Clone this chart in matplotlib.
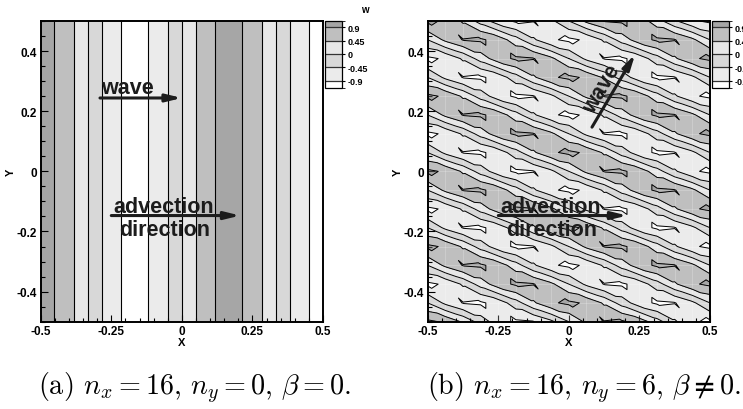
import numpy as np
import matplotlib
matplotlib.use("Agg")
import matplotlib.pyplot as plt
import matplotlib.tri as mtri
from matplotlib.colors import ListedColormap, BoundaryNorm
from matplotlib.cm import ScalarMappable
from matplotlib.ticker import MultipleLocator

# contour levels of w and the labels shown in the legend box
levels = [-0.9, -0.45, 0.0, 0.45, 0.9]
level_labels = ["-0.9", "-0.45", "0", "0.45", "0.9"]

# wave numbers of the two fields w = sin(kx*x + ky*y)
kx_a, ky_a = 3 * np.pi, 0.0
kx_b, ky_b = 3 * np.pi, 8 * np.pi
mesh_cells = 16            # cells of the computational mesh in each direction

x_ticks = [-0.5, -0.25, 0, 0.25, 0.5]
x_tick_labels = ["-0.5", "-0.25", "0", "0.25", "0.5"]
y_ticks = [-0.4, -0.2, 0, 0.2, 0.4]
y_tick_labels = ["-0.4", "-0.2", "0", "0.2", "0.4"]

captions = [r"(a) $n_x = 16$, $n_y = 0$, $\beta = 0$.",
            r"(b) $n_x = 16$, $n_y = 6$, $\beta \neq 0$."]

# greys from lowest band (< -0.9) to highest (> 0.9)
fill_colors = ["#ffffff", "#ebebeb", "#d8d8d8", "#e7e7e7", "#bfbfbf", "#a6a6a6"]

plt.rcParams["font.family"] = ["Liberation Sans", "DejaVu Sans"]
plt.rcParams["font.weight"] = "bold"
plt.rcParams["mathtext.fontset"] = "cm"

W_PX, H_PX = 743, 410
TXT = "#1c1c1c"


def px_box(x0, y0, x1, y1):
    return [x0 / W_PX, (H_PX - y1) / H_PX, (x1 - x0) / W_PX, (y1 - y0) / H_PX]


def style_axes(ax):
    ax.set_xlim(-0.5, 0.5)
    ax.set_ylim(-0.5, 0.5)
    ax.set_xticks(x_ticks)
    ax.set_xticklabels(x_tick_labels)
    ax.set_yticks(y_ticks)
    ax.set_yticklabels(y_tick_labels)
    ax.xaxis.set_minor_locator(MultipleLocator(0.05))
    ax.yaxis.set_minor_locator(MultipleLocator(0.05))
    ax.tick_params(which="both", direction="in", top=False, right=False,
                   labelsize=8.5, pad=2.5, width=0.8)
    ax.tick_params(which="major", length=5)
    ax.tick_params(which="minor", length=3)
    for lab in ax.get_xticklabels() + ax.get_yticklabels():
        lab.set_fontweight("bold")
    for sp in ax.spines.values():
        sp.set_linewidth(1.4)
    ax.set_xlabel("X", fontsize=8, fontweight="bold", labelpad=0)
    ax.set_ylabel("Y", fontsize=8, fontweight="bold", labelpad=1)


def draw_arrow(ax, start, end):
    ax.annotate("", xy=end, xytext=start,
                arrowprops=dict(arrowstyle="-|>,head_length=0.9,head_width=0.22",
                                lw=2.2, color=TXT, shrinkA=0, shrinkB=0))


def colour_box(cax):
    bounds = [-1.16, -0.9, -0.45, 0.0, 0.45, 0.9, 1.12]
    sm = ScalarMappable(norm=BoundaryNorm(bounds, 6), cmap=ListedColormap(fill_colors))
    cb = fig.colorbar(sm, cax=cax, boundaries=bounds, ticks=levels,
                      spacing="proportional", drawedges=True)
    cb.set_ticklabels(level_labels)
    cb.outline.set_linewidth(0.9)
    cb.dividers.set_color("#333333")
    cb.dividers.set_linewidth(0.9)
    cax.tick_params(direction="out", length=2, width=0.8, labelsize=6.5, pad=2)
    for lab in cax.get_yticklabels():
        lab.set_fontweight("bold")


def labels_and_arrows(ax):
    ax.text(-0.063, -0.136, "advection", fontsize=15.5, fontweight="bold",
            color=TXT, ha="center")
    ax.text(-0.06, -0.211, "direction", fontsize=15.5, fontweight="bold",
            color=TXT, ha="center")
    draw_arrow(ax, (-0.25, -0.147), (0.207, -0.147))


def mesh_triangulation(nodes):
    # split each cell along the top-left / bottom-right diagonal
    n = len(nodes)
    X, Y = np.meshgrid(nodes, nodes)
    tris = []
    for j in range(n - 1):
        for i in range(n - 1):
            p = j * n + i
            tris.append([p, p + 1, p + n])
            tris.append([p + 1, p + n + 1, p + n])
    return mtri.Triangulation(X.ravel(), Y.ravel(), np.array(tris)), X, Y


fig = plt.figure(figsize=(W_PX / 100, H_PX / 100), dpi=100)
bands = [-5] + levels + [5]

# ---- panel (a)
ax_a = fig.add_axes(px_box(40.7, 22, 323, 322.7))
xa = np.linspace(-0.5, 0.5, 481)
ya = np.array([-0.5, 0.5])
Xa, Ya = np.meshgrid(xa, ya)
Wa = np.sin(kx_a * Xa + ky_a * Ya)
ax_a.contourf(Xa, Ya, Wa, levels=bands, colors=fill_colors)
ax_a.contour(Xa, Ya, Wa, levels=levels, colors="k", linewidths=0.8,
             linestyles="solid")
style_axes(ax_a)
ax_a.text(-0.286, 0.262, "wave", fontsize=15.5, fontweight="bold", color=TXT)
draw_arrow(ax_a, (-0.29, 0.244), (0.0, 0.244))
labels_and_arrows(ax_a)

cax_a = fig.add_axes(px_box(325, 21.7, 342, 89.3))
colour_box(cax_a)
fig.text(365 / W_PX, 1 - 10 / H_PX, "w", fontsize=7, fontweight="bold",
         ha="center", va="center")

# ---- panel (b)
ax_b = fig.add_axes(px_box(427.7, 22, 710, 322.7))
xb = np.linspace(-0.5, 0.5, mesh_cells + 1)
tri_b, Xb, Yb = mesh_triangulation(xb)
Wb = np.sin(kx_b * Xb + ky_b * Yb).ravel()
ax_b.tricontourf(tri_b, Wb, levels=bands, colors=fill_colors)
for v in xb[1:-1]:
    ax_b.axvline(v, color="white", lw=0.5, alpha=0.3)
    ax_b.axhline(v, color="white", lw=0.5, alpha=0.3)
ax_b.tricontour(tri_b, Wb, levels=levels, colors="k", linewidths=0.7,
                linestyles="solid")
style_axes(ax_b)
draw_arrow(ax_b, (0.082, 0.147), (0.235, 0.39))
ax_b.text(0.117, 0.274, "wave", fontsize=15.5, fontweight="bold", color=TXT,
          rotation=59, ha="center", va="center", rotation_mode="anchor")
labels_and_arrows(ax_b)

cax_b = fig.add_axes(px_box(712, 21.7, 729, 89.3))
colour_box(cax_b)

# ---- captions
for cx, cap in zip([195, 584], captions):
    fig.text(cx / W_PX, 1 - 388 / H_PX, cap, fontsize=20.3,
             fontweight="normal", family="cmr10", ha="center", va="center")

fig.savefig("out.png", dpi=100)
